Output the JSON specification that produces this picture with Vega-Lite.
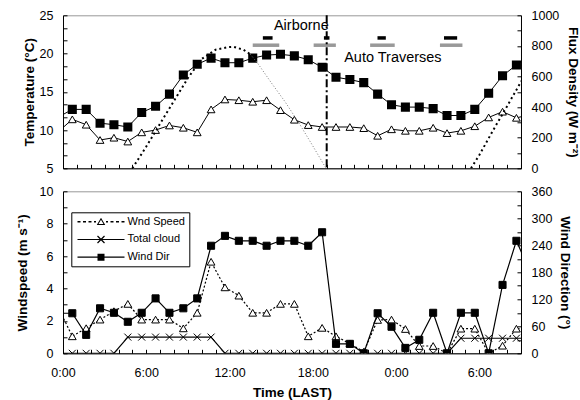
{
  "$schema": "https://vega.github.io/schema/vega-lite/v6.json",
  "padding": {"left": 14, "top": 8.3, "right": 2, "bottom": 2},
  "spacing": 9,
  "config": {
    "font": "Liberation Sans",
    "view": {"stroke": "#999999", "strokeWidth": 1},
    "axis": {"labelFont": "Liberation Sans", "labelFontSize": 12.5, "labelColor": "black", "titleFont": "Liberation Sans", "titleFontSize": 13.5, "titleFontWeight": "bold", "titleColor": "black", "domainColor": "black", "tickColor": "black", "grid": false, "tickSize": -4, "labelPadding": 14, "labelOverlap": false, "labelFlush": false},
    "legend": {"labelFont": "Liberation Sans", "labelFontSize": 11, "labelColor": "black"},
    "text": {"font": "Liberation Sans"}
  },
  "resolve": {
    "scale": {"shape": "independent", "color": "independent"},
    "legend": {"shape": "independent", "color": "independent"}
  },
  "datasets": {
    "hourly": [
      {"t": -0.33, "A": 11.7, "B": 9.8, "Wnd Speed": 2.8, "Total cloud": 0, "Wind Dir": 89},
      {"t": 0.67, "A": 12.7, "B": 11.4, "Wnd Speed": 1.05, "Total cloud": 0, "Wind Dir": 89},
      {"t": 1.67, "A": 12.7, "B": 10.7, "Wnd Speed": 1.55, "Total cloud": 0, "Wind Dir": 41},
      {"t": 2.67, "A": 10.9, "B": 8.7, "Wnd Speed": 2.08, "Total cloud": 0, "Wind Dir": 100},
      {"t": 3.67, "A": 10.7, "B": 9.0, "Wnd Speed": 2.6, "Total cloud": 0, "Wind Dir": 90},
      {"t": 4.67, "A": 10.4, "B": 8.5, "Wnd Speed": 3.05, "Total cloud": 1, "Wind Dir": 70},
      {"t": 5.67, "A": 12.3, "B": 9.7, "Wnd Speed": 2.08, "Total cloud": 1, "Wind Dir": 90},
      {"t": 6.67, "A": 13.1, "B": 10.0, "Wnd Speed": 2.08, "Total cloud": 1, "Wind Dir": 122},
      {"t": 7.67, "A": 14.7, "B": 10.6, "Wnd Speed": 2.08, "Total cloud": 1, "Wind Dir": 90},
      {"t": 8.67, "A": 17.2, "B": 10.3, "Wnd Speed": 1.54, "Total cloud": 1, "Wind Dir": 100},
      {"t": 9.67, "A": 18.6, "B": 9.7, "Wnd Speed": 2.5, "Total cloud": 1, "Wind Dir": 122},
      {"t": 10.67, "A": 19.4, "B": 12.7, "Wnd Speed": 5.65, "Total cloud": 1, "Wind Dir": 239},
      {"t": 11.67, "A": 18.8, "B": 14.0, "Wnd Speed": 4.07, "Total cloud": 0, "Wind Dir": 261},
      {"t": 12.67, "A": 18.8, "B": 13.9, "Wnd Speed": 3.56, "Total cloud": 0, "Wind Dir": 250},
      {"t": 13.67, "A": 19.4, "B": 13.7, "Wnd Speed": 2.5, "Total cloud": 0, "Wind Dir": 250},
      {"t": 14.67, "A": 19.8, "B": 13.9, "Wnd Speed": 2.5, "Total cloud": 0, "Wind Dir": 239},
      {"t": 15.67, "A": 19.9, "B": 12.6, "Wnd Speed": 3.05, "Total cloud": 0, "Wind Dir": 250},
      {"t": 16.67, "A": 19.7, "B": 11.35, "Wnd Speed": 3.05, "Total cloud": 0, "Wind Dir": 250},
      {"t": 17.67, "A": 19.2, "B": 10.65, "Wnd Speed": 1.05, "Total cloud": 0, "Wind Dir": 239},
      {"t": 18.67, "A": 18.2, "B": 10.4, "Wnd Speed": 1.57, "Total cloud": 0, "Wind Dir": 269},
      {"t": 19.67, "A": 16.9, "B": 10.4, "Wnd Speed": 1.05, "Total cloud": 0, "Wind Dir": 21},
      {"t": 20.67, "A": 16.6, "B": 10.4, "Wnd Speed": 0.6, "Total cloud": 0, "Wind Dir": 21},
      {"t": 21.67, "A": 16.2, "B": 10.25, "Wnd Speed": 0.1, "Total cloud": 0, "Wind Dir": 0},
      {"t": 22.67, "A": 14.7, "B": 9.25, "Wnd Speed": 2.06, "Total cloud": 0, "Wind Dir": 89},
      {"t": 23.67, "A": 13.3, "B": 10.1, "Wnd Speed": 2.08, "Total cloud": 0, "Wind Dir": 59},
      {"t": 24.67, "A": 13.0, "B": 9.9, "Wnd Speed": 1.5, "Total cloud": 0, "Wind Dir": 12},
      {"t": 25.67, "A": 13.0, "B": 9.9, "Wnd Speed": 0.45, "Total cloud": 0, "Wind Dir": 30},
      {"t": 26.67, "A": 12.8, "B": 10.3, "Wnd Speed": 0.45, "Total cloud": 0, "Wind Dir": 90},
      {"t": 27.67, "A": 11.9, "B": 9.6, "Wnd Speed": 0, "Total cloud": 0, "Wind Dir": 0},
      {"t": 28.67, "A": 11.9, "B": 9.9, "Wnd Speed": 1.52, "Total cloud": 0.93, "Wind Dir": 90},
      {"t": 29.67, "A": 12.7, "B": 10.5, "Wnd Speed": 1.52, "Total cloud": 0.93, "Wind Dir": 90},
      {"t": 30.67, "A": 14.8, "B": 11.65, "Wnd Speed": 0, "Total cloud": 0.93, "Wind Dir": 0},
      {"t": 31.67, "A": 17.1, "B": 12.4, "Wnd Speed": 0.47, "Total cloud": 0.93, "Wind Dir": 152},
      {"t": 32.67, "A": 18.5, "B": 11.6, "Wnd Speed": 1.52, "Total cloud": 0.93, "Wind Dir": 250},
      {"t": 33.67, "A": 19.9, "B": 12.0, "Wnd Speed": 1.5, "Total cloud": 0.93, "Wind Dir": 180}
    ],
    "flux": [
      {"seg": "a", "t": 5.0, "F": 0},
      {"seg": "a", "t": 6, "F": 142},
      {"seg": "a", "t": 7, "F": 292},
      {"seg": "a", "t": 8, "F": 441},
      {"seg": "a", "t": 9, "F": 590},
      {"seg": "a", "t": 10, "F": 715},
      {"seg": "a", "t": 11, "F": 775},
      {"seg": "a", "t": 11.9, "F": 792},
      {"seg": "a", "t": 12.3, "F": 794},
      {"seg": "a", "t": 13, "F": 775},
      {"seg": "a", "t": 13.5, "F": 745},
      {"seg": "b", "t": 13.5, "F": 745},
      {"seg": "b", "t": 14, "F": 690},
      {"seg": "b", "t": 15, "F": 560},
      {"seg": "b", "t": 16, "F": 435},
      {"seg": "b", "t": 17, "F": 296},
      {"seg": "b", "t": 18, "F": 146},
      {"seg": "b", "t": 18.95, "F": 0},
      {"seg": "c", "t": 29.4, "F": 0},
      {"seg": "c", "t": 30, "F": 87},
      {"seg": "c", "t": 31, "F": 250},
      {"seg": "c", "t": 32, "F": 406},
      {"seg": "c", "t": 33, "F": 565},
      {"seg": "c", "t": 33.5, "F": 640}
    ],
    "bars": [
      {"kind": "Auto Traverses", "t1": 13.67, "t2": 15.58, "lev": 21.09},
      {"kind": "Auto Traverses", "t1": 18.06, "t2": 19.66, "lev": 21.09},
      {"kind": "Auto Traverses", "t1": 22.13, "t2": 23.9, "lev": 21.09},
      {"kind": "Auto Traverses", "t1": 27.16, "t2": 28.78, "lev": 21.09},
      {"kind": "Airborne", "t1": 14.4, "t2": 15.1, "lev": 22.04},
      {"kind": "Airborne", "t1": 18.8, "t2": 19.2, "lev": 22.04},
      {"kind": "Airborne", "t1": 22.66, "t2": 23.26, "lev": 22.04},
      {"kind": "Airborne", "t1": 27.45, "t2": 28.4, "lev": 22.04}
    ],
    "notes": [
      {"t": 15.2, "y": 23.6, "text": "Airborne"},
      {"t": 20.26, "y": 19.4, "text": "Auto Traverses"}
    ],
    "events": [{"t": 19.0}]
  },
  "vconcat": [
    {
      "width": 458,
      "height": 153,
      "layer": [
        {
          "layer": [
            {
              "data": {"name": "hourly"},
              "mark": {"type": "line", "color": "black", "strokeWidth": 1, "clip": true},
              "encoding": {
                "x": {"field": "t", "type": "quantitative", "scale": {"domain": [0, 33], "nice": false, "zero": false}, "axis": {"values": [0,1,2,3,4,5,6,7,8,9,10,11,12,13,14,15,16,17,18,19,20,21,22,23,24,25,26,27,28,29,30,31,32,33], "labels": false, "title": null}},
                "y": {"field": "A", "type": "quantitative", "scale": {"domain": [5, 25], "nice": false, "zero": false}, "axis": {"values": [5,6.6667,8.3333,10,11.6667,13.3333,15,16.6667,18.3333,20,21.6667,23.3333,25], "format": "d", "labelExpr": "abs(datum.value - 5*round(datum.value/5)) < 0.01 ? datum.label : ''", "title": "Temperature (°C)", "titlePadding": 3}}
              }
            },
            {
              "data": {"name": "hourly"},
              "mark": {"type": "point", "shape": "square", "filled": true, "fill": "black", "stroke": "black", "size": 50, "opacity": 1, "clip": true},
              "encoding": {
                "x": {"field": "t", "type": "quantitative", "scale": {"domain": [0, 33], "nice": false, "zero": false}, "axis": {"values": [0,1,2,3,4,5,6,7,8,9,10,11,12,13,14,15,16,17,18,19,20,21,22,23,24,25,26,27,28,29,30,31,32,33], "labels": false, "title": null}},
                "y": {"field": "A", "type": "quantitative", "scale": {"domain": [5, 25], "nice": false, "zero": false}, "axis": {"values": [5,6.6667,8.3333,10,11.6667,13.3333,15,16.6667,18.3333,20,21.6667,23.3333,25], "format": "d", "labelExpr": "abs(datum.value - 5*round(datum.value/5)) < 0.01 ? datum.label : ''", "title": "Temperature (°C)", "titlePadding": 3}}
              }
            },
            {
              "data": {"name": "hourly"},
              "mark": {"type": "line", "color": "black", "strokeWidth": 1, "clip": true},
              "encoding": {
                "x": {"field": "t", "type": "quantitative", "scale": {"domain": [0, 33], "nice": false, "zero": false}, "axis": {"values": [0,1,2,3,4,5,6,7,8,9,10,11,12,13,14,15,16,17,18,19,20,21,22,23,24,25,26,27,28,29,30,31,32,33], "labels": false, "title": null}},
                "y": {"field": "B", "type": "quantitative", "scale": {"domain": [5, 25], "nice": false, "zero": false}, "axis": {"values": [5,6.6667,8.3333,10,11.6667,13.3333,15,16.6667,18.3333,20,21.6667,23.3333,25], "format": "d", "labelExpr": "abs(datum.value - 5*round(datum.value/5)) < 0.01 ? datum.label : ''", "title": "Temperature (°C)", "titlePadding": 3}}
              }
            },
            {
              "data": {"name": "hourly"},
              "mark": {"type": "point", "shape": "triangle-up", "filled": true, "fill": "white", "stroke": "black", "strokeWidth": 1, "size": 60, "opacity": 1, "clip": true},
              "encoding": {
                "x": {"field": "t", "type": "quantitative", "scale": {"domain": [0, 33], "nice": false, "zero": false}, "axis": {"values": [0,1,2,3,4,5,6,7,8,9,10,11,12,13,14,15,16,17,18,19,20,21,22,23,24,25,26,27,28,29,30,31,32,33], "labels": false, "title": null}},
                "y": {"field": "B", "type": "quantitative", "scale": {"domain": [5, 25], "nice": false, "zero": false}, "axis": {"values": [5,6.6667,8.3333,10,11.6667,13.3333,15,16.6667,18.3333,20,21.6667,23.3333,25], "format": "d", "labelExpr": "abs(datum.value - 5*round(datum.value/5)) < 0.01 ? datum.label : ''", "title": "Temperature (°C)", "titlePadding": 3}}
              }
            },
            {
              "data": {"name": "bars"},
              "mark": {"type": "rule", "strokeWidth": 3.5},
              "encoding": {
                "x": {"field": "t1", "type": "quantitative", "scale": {"domain": [0, 33], "nice": false, "zero": false}, "axis": {"values": [0,1,2,3,4,5,6,7,8,9,10,11,12,13,14,15,16,17,18,19,20,21,22,23,24,25,26,27,28,29,30,31,32,33], "labels": false, "title": null}},
                "x2": {"field": "t2"},
                "y": {"field": "lev", "type": "quantitative", "scale": {"domain": [5, 25], "nice": false, "zero": false}, "axis": {"values": [5,6.6667,8.3333,10,11.6667,13.3333,15,16.6667,18.3333,20,21.6667,23.3333,25], "format": "d", "labelExpr": "abs(datum.value - 5*round(datum.value/5)) < 0.01 ? datum.label : ''", "title": "Temperature (°C)", "titlePadding": 3}},
                "color": {"field": "kind", "type": "nominal", "scale": {"domain": ["Airborne", "Auto Traverses"], "range": ["black", "#999999"]}, "legend": null}
              }
            },
            {
              "data": {"name": "notes"},
              "mark": {"type": "text", "align": "left", "baseline": "middle", "fontSize": 14.5, "color": "black"},
              "encoding": {
                "x": {"field": "t", "type": "quantitative", "scale": {"domain": [0, 33], "nice": false, "zero": false}, "axis": {"values": [0,1,2,3,4,5,6,7,8,9,10,11,12,13,14,15,16,17,18,19,20,21,22,23,24,25,26,27,28,29,30,31,32,33], "labels": false, "title": null}},
                "y": {"field": "y", "type": "quantitative", "scale": {"domain": [5, 25], "nice": false, "zero": false}, "axis": {"values": [5,6.6667,8.3333,10,11.6667,13.3333,15,16.6667,18.3333,20,21.6667,23.3333,25], "format": "d", "labelExpr": "abs(datum.value - 5*round(datum.value/5)) < 0.01 ? datum.label : ''", "title": "Temperature (°C)", "titlePadding": 3}},
                "text": {"field": "text"}
              }
            },
            {
              "data": {"name": "events"},
              "mark": {"type": "rule", "strokeWidth": 2, "strokeDash": [8, 3, 2, 3], "color": "black"},
              "encoding": {
                "x": {"field": "t", "type": "quantitative", "scale": {"domain": [0, 33], "nice": false, "zero": false}, "axis": {"values": [0,1,2,3,4,5,6,7,8,9,10,11,12,13,14,15,16,17,18,19,20,21,22,23,24,25,26,27,28,29,30,31,32,33], "labels": false, "title": null}}
              }
            }
          ]
        },
        {
          "data": {"name": "flux"},
          "layer": [
            {
              "transform": [{"filter": "datum.seg != 'b'"}],
              "mark": {"type": "line", "color": "black", "strokeWidth": 2, "strokeDash": [2, 3], "clip": true},
              "encoding": {
                "x": {"field": "t", "type": "quantitative", "scale": {"domain": [0, 33], "nice": false, "zero": false}, "axis": {"values": [0,1,2,3,4,5,6,7,8,9,10,11,12,13,14,15,16,17,18,19,20,21,22,23,24,25,26,27,28,29,30,31,32,33], "labels": false, "title": null}},
                "y": {"field": "F", "type": "quantitative", "scale": {"domain": [0, 1000], "nice": false, "zero": false}, "axis": {"orient": "right", "values": [0,100,200,300,400,500,600,700,800,900,1000], "format": "d", "labelExpr": "datum.value % 200 == 0 ? datum.label : ''", "title": "Flux Density (W m⁻²)", "titlePadding": 7}},
                "detail": {"field": "seg", "type": "nominal"}
              }
            },
            {
              "transform": [{"filter": "datum.seg == 'b'"}],
              "mark": {"type": "line", "color": "#777777", "strokeWidth": 1, "strokeDash": [1, 2], "clip": true},
              "encoding": {
                "x": {"field": "t", "type": "quantitative", "scale": {"domain": [0, 33], "nice": false, "zero": false}, "axis": {"values": [0,1,2,3,4,5,6,7,8,9,10,11,12,13,14,15,16,17,18,19,20,21,22,23,24,25,26,27,28,29,30,31,32,33], "labels": false, "title": null}},
                "y": {"field": "F", "type": "quantitative", "scale": {"domain": [0, 1000], "nice": false, "zero": false}, "axis": {"orient": "right", "values": [0,100,200,300,400,500,600,700,800,900,1000], "format": "d", "labelExpr": "datum.value % 200 == 0 ? datum.label : ''", "title": "Flux Density (W m⁻²)", "titlePadding": 7}}
              }
            }
          ]
        }
      ],
      "resolve": {"scale": {"y": "independent"}}
    },
    {
      "width": 458,
      "height": 162,
      "data": {"name": "hourly"},
      "layer": [
        {
          "transform": [{"fold": ["Wnd Speed", "Total cloud"], "as": ["series", "value"]}],
          "layer": [
            {
              "mark": {"type": "line", "color": "black", "strokeWidth": 1.2, "clip": true},
              "encoding": {
                "x": {"field": "t", "type": "quantitative", "scale": {"domain": [0, 33], "nice": false, "zero": false}, "axis": {"values": [0,1,2,3,4,5,6,7,8,9,10,11,12,13,14,15,16,17,18,19,20,21,22,23,24,25,26,27,28,29,30,31,32,33], "labelExpr": "datum.value % 6 == 0 ? (datum.value % 24) + ':00' : ''", "title": "Time (LAST)", "labelPadding": 17, "titlePadding": 6.5}},
                "y": {"field": "value", "type": "quantitative", "scale": {"domain": [0, 10], "nice": false, "zero": false}, "axis": {"values": [0,1,2,3,4,5,6,7,8,9,10], "format": "d", "labelExpr": "datum.value % 2 == 0 ? datum.label : ''", "title": "Windspeed (m s⁻¹)", "titlePadding": 10}},
                "detail": {"field": "series", "type": "nominal"},
                "strokeDash": {"condition": {"test": "datum.series === 'Wnd Speed'", "value": [2, 2]}, "value": [1, 0]}
              }
            },
            {
              "transform": [{"filter": "datum.series === 'Wnd Speed'"}],
              "mark": {"type": "point", "shape": "triangle-up", "filled": true, "fill": "white", "stroke": "black", "strokeWidth": 1, "size": 60, "opacity": 1, "clip": true},
              "encoding": {
                "x": {"field": "t", "type": "quantitative", "scale": {"domain": [0, 33], "nice": false, "zero": false}, "axis": {"values": [0,1,2,3,4,5,6,7,8,9,10,11,12,13,14,15,16,17,18,19,20,21,22,23,24,25,26,27,28,29,30,31,32,33], "labelExpr": "datum.value % 6 == 0 ? (datum.value % 24) + ':00' : ''", "title": "Time (LAST)", "labelPadding": 17, "titlePadding": 6.5}},
                "y": {"field": "value", "type": "quantitative", "scale": {"domain": [0, 10], "nice": false, "zero": false}, "axis": {"values": [0,1,2,3,4,5,6,7,8,9,10], "format": "d", "labelExpr": "datum.value % 2 == 0 ? datum.label : ''", "title": "Windspeed (m s⁻¹)", "titlePadding": 10}}
              }
            },
            {
              "transform": [{"filter": "datum.series === 'Total cloud'"}],
              "mark": {"type": "point", "shape": "M-1,-1L1,1M-1,1L1,-1", "filled": false, "stroke": "black", "strokeWidth": 1, "size": 49, "opacity": 1, "clip": true},
              "encoding": {
                "x": {"field": "t", "type": "quantitative", "scale": {"domain": [0, 33], "nice": false, "zero": false}, "axis": {"values": [0,1,2,3,4,5,6,7,8,9,10,11,12,13,14,15,16,17,18,19,20,21,22,23,24,25,26,27,28,29,30,31,32,33], "labelExpr": "datum.value % 6 == 0 ? (datum.value % 24) + ':00' : ''", "title": "Time (LAST)", "labelPadding": 17, "titlePadding": 6.5}},
                "y": {"field": "value", "type": "quantitative", "scale": {"domain": [0, 10], "nice": false, "zero": false}, "axis": {"values": [0,1,2,3,4,5,6,7,8,9,10], "format": "d", "labelExpr": "datum.value % 2 == 0 ? datum.label : ''", "title": "Windspeed (m s⁻¹)", "titlePadding": 10}}
              }
            },
            {
              "transform": [{"filter": "false"}],
              "mark": {"type": "point", "filled": true, "color": "black", "opacity": 1},
              "encoding": {
                "x": {"field": "t", "type": "quantitative", "scale": {"domain": [0, 33], "nice": false, "zero": false}, "axis": {"values": [0,1,2,3,4,5,6,7,8,9,10,11,12,13,14,15,16,17,18,19,20,21,22,23,24,25,26,27,28,29,30,31,32,33], "labelExpr": "datum.value % 6 == 0 ? (datum.value % 24) + ':00' : ''", "title": "Time (LAST)", "labelPadding": 17, "titlePadding": 6.5}},
                "y": {"field": "value", "type": "quantitative", "scale": {"domain": [0, 10], "nice": false, "zero": false}, "axis": {"values": [0,1,2,3,4,5,6,7,8,9,10], "format": "d", "labelExpr": "datum.value % 2 == 0 ? datum.label : ''", "title": "Windspeed (m s⁻¹)", "titlePadding": 10}},
                "shape": {"field": "series", "type": "nominal", "scale": {"domain": ["Wnd Speed", "Total cloud", "Wind Dir"], "range": [
                  "M-4.7,-0.14H-4.1V0.14H-4.7ZM-3.6,-0.14H-3V0.14H-3.6ZM-2.5,-0.14H-1.9V0.14H-2.5ZM-1.4,-0.14H-1V0.14H-1.4ZM1,-0.14H1.4V0.14H1ZM1.9,-0.14H2.5V0.14H1.9ZM3,-0.14H3.6V0.14H3ZM4.1,-0.14H4.7V0.14H4.1ZM0,-0.8L0.85,0.65L-0.85,0.65ZM0,-0.4L-0.5,0.45L0.5,0.45Z",
                  "M-4.7,-0.12H4.7V0.12H-4.7ZM-0.785,-0.615L-0.615,-0.785L0.785,0.615L0.615,0.785ZM-0.615,0.785L-0.785,0.615L0.615,-0.785L0.785,-0.615Z",
                  "M-4.7,-0.12H4.7V0.12H-4.7ZM-0.7,-0.7H0.7V0.7H-0.7Z"
                ]}, "legend": {"orient": "none", "legendX": 8.3, "legendY": 21, "title": null, "padding": 4, "rowPadding": 5.7, "symbolSize": 100, "symbolOffset": 20.2, "labelOffset": 21, "symbolFillColor": "black", "symbolStrokeWidth": 0, "symbolOpacity": 1, "strokeColor": "black"}}
              }
            }
          ]
        },
        {
          "transform": [{"fold": ["Wind Dir"], "as": ["series", "value"]}],
          "layer": [
            {
              "mark": {"type": "line", "color": "black", "strokeWidth": 1.2, "clip": true},
              "encoding": {
                "x": {"field": "t", "type": "quantitative", "scale": {"domain": [0, 33], "nice": false, "zero": false}, "axis": {"values": [0,1,2,3,4,5,6,7,8,9,10,11,12,13,14,15,16,17,18,19,20,21,22,23,24,25,26,27,28,29,30,31,32,33], "labelExpr": "datum.value % 6 == 0 ? (datum.value % 24) + ':00' : ''", "title": "Time (LAST)", "labelPadding": 17, "titlePadding": 6.5}},
                "y": {"field": "value", "type": "quantitative", "scale": {"domain": [0, 360], "nice": false, "zero": false}, "axis": {"orient": "right", "values": [0,30,60,90,120,150,180,210,240,270,300,330,360], "format": "d", "labelExpr": "datum.value % 60 == 0 ? datum.label : ''", "title": "Wind Direction (°)", "titlePadding": 6}}
              }
            },
            {
              "mark": {"type": "point", "shape": "square", "filled": true, "fill": "black", "stroke": "black", "strokeWidth": 1, "size": 50, "opacity": 1, "clip": true},
              "encoding": {
                "x": {"field": "t", "type": "quantitative", "scale": {"domain": [0, 33], "nice": false, "zero": false}, "axis": {"values": [0,1,2,3,4,5,6,7,8,9,10,11,12,13,14,15,16,17,18,19,20,21,22,23,24,25,26,27,28,29,30,31,32,33], "labelExpr": "datum.value % 6 == 0 ? (datum.value % 24) + ':00' : ''", "title": "Time (LAST)", "labelPadding": 17, "titlePadding": 6.5}},
                "y": {"field": "value", "type": "quantitative", "scale": {"domain": [0, 360], "nice": false, "zero": false}, "axis": {"orient": "right", "values": [0,30,60,90,120,150,180,210,240,270,300,330,360], "format": "d", "labelExpr": "datum.value % 60 == 0 ? datum.label : ''", "title": "Wind Direction (°)", "titlePadding": 6}}
              }
            }
          ]
        }
      ],
      "resolve": {"scale": {"y": "independent"}}
    }
  ]
}
